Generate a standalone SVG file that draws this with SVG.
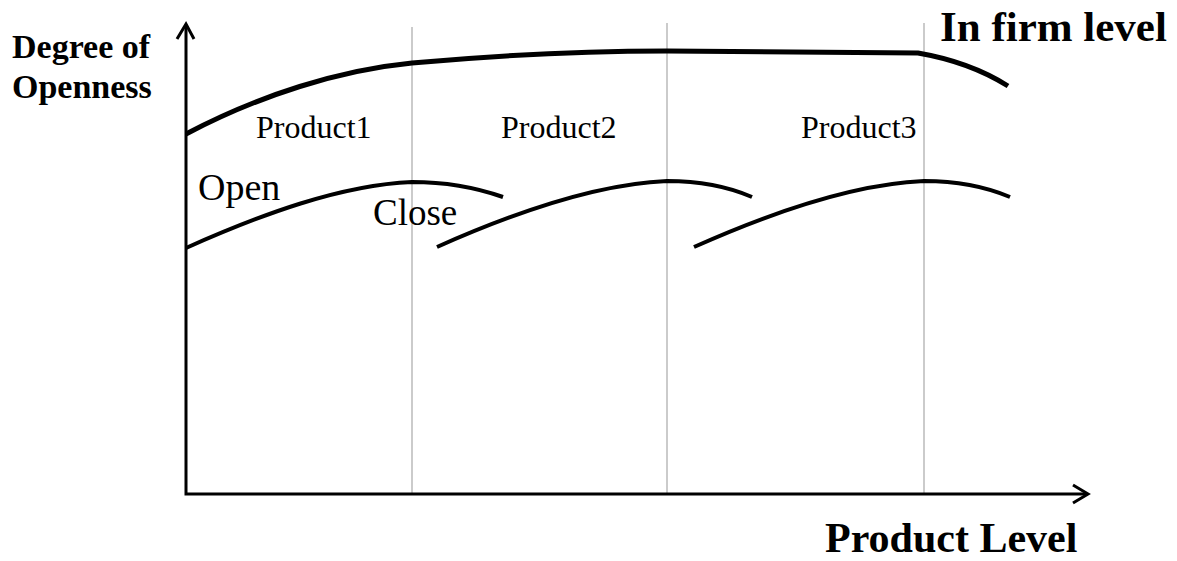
<svg xmlns="http://www.w3.org/2000/svg" width="1177" height="561" viewBox="0 0 1177 561">
<style>
.grid{stroke:#a8a8a8;stroke-width:1.2;fill:none}
.axis{stroke:#000;stroke-width:3;fill:none}
.firm{stroke:#000;stroke-width:5;fill:none;stroke-linecap:butt}
.prod{stroke:#000;stroke-width:4;fill:none}
.bold{font-family:"Liberation Serif","Times New Roman",serif;font-weight:bold;fill:#000}
.reg{font-family:"Liberation Serif","Times New Roman",serif;fill:#000}
</style>
<rect width="1177" height="561" fill="#fff"/>
<g id="gridlines">
<line class="grid" x1="412" y1="27" x2="412" y2="493"/>
<line class="grid" x1="667" y1="23" x2="667" y2="493"/>
<line class="grid" x1="924" y1="23" x2="924" y2="493"/>
</g>
<g id="axes">
<path class="axis" d="M186,25 L186,494 L1087,494"/>
<path class="axis" d="M177,39 L186,24 L194,39"/>
<path class="axis" d="M1073,485 L1088,494 L1073,503"/>
</g>
<g id="connectors">
<path id="firm-curve" class="firm" d="M186,134 C260,95 340,70 412,63 C500,55 580,51 667,51 L918,53 Q970,62 1008,86"/>
<path id="product1-curve" class="prod" d="M186,248 C260,215 340,185 412,182 Q460,182 503,197"/>
<path id="product2-curve" class="prod" d="M437,247 C511,214 595,184 667,181 Q715,181 752,197"/>
<path id="product3-curve" class="prod" d="M694,247 C768,214 852,184 924,181 Q972,181 1010,197"/>
</g>
<g id="labels">
<text class="bold" x="12" y="58" font-size="34">Degree of</text>
<text class="bold" x="12" y="98" font-size="34">Openness</text>
<text class="bold" x="940" y="41" font-size="43">In firm level</text>
<text class="bold" x="825" y="552" font-size="42">Product Level</text>
<text class="reg" x="256" y="138" font-size="32">Product1</text>
<text class="reg" x="501" y="138" font-size="32">Product2</text>
<text class="reg" x="801" y="138" font-size="32">Product3</text>
<text class="reg" x="198" y="200" font-size="38">Open</text>
<text class="reg" x="373" y="225" font-size="37">Close</text>
</g>
</svg>
